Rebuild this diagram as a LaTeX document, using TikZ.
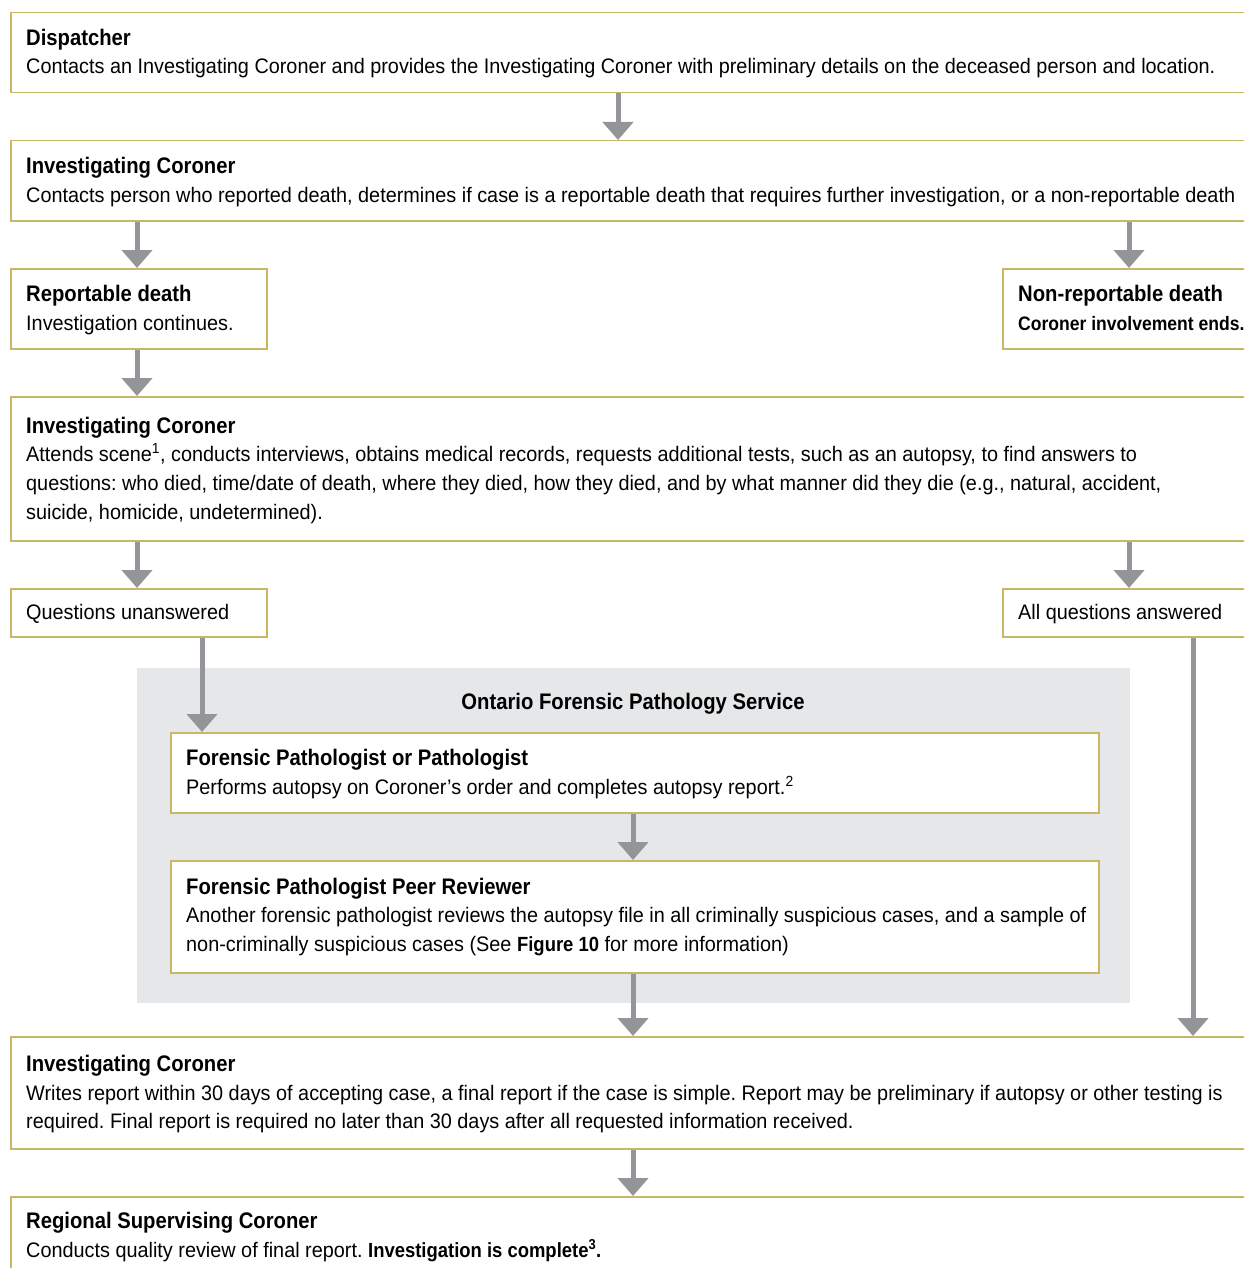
\documentclass[tikz,border=0pt]{standalone}
\usepackage{fontspec}
\setmainfont{Liberation Sans}[FakeStretch=0.9]
\newfontfamily\bodyfont{Liberation Sans}[FakeStretch=0.945]
\newcommand{\hl}[1]{{\rmfamily\bfseries\fontsize{20.5}{29}\selectfont #1}}
\usetikzlibrary{arrows.meta}
\definecolor{gold}{HTML}{C8B866}
\definecolor{arrgray}{HTML}{939598}
\definecolor{panelgray}{HTML}{E6E7E8}
\frenchspacing
\tikzset{
  box/.style={draw=gold, line width=1.5pt, fill=white, rectangle, inner sep=0pt, anchor=north west},
  ttl/.style={anchor=base west, inner sep=0pt, font=\rmfamily\fontsize{22.5}{29}\selectfont\bfseries},
  bdy/.style={anchor=base west, inner sep=0pt, font=\bodyfont\fontsize{21}{29}\selectfont},
  arr/.style={draw=arrgray, line width=5pt, -{Triangle[width=30pt,length=18pt]}, arrgray},
}
\begin{document}
\begin{tikzpicture}[x=1pt,y=-1pt]
\useasboundingbox (0,0) rectangle (1244,1268);
\clip (0,0) rectangle (1244,1268);
\fill[white] (0,0) rectangle (1244,1268);

% column coordinates
\coordinate (c137) at (137,0);
\coordinate (c202) at (202,0);
\coordinate (c618) at (618,0);
\coordinate (c633) at (633,0);
\coordinate (c1129) at (1129,0);
\coordinate (c1193) at (1193,0);

% panel
\node[fill=panelgray, rectangle, inner sep=0pt, anchor=north west, minimum width=993pt, minimum height=335pt] (panel) at (137,668) {};
\node[anchor=base, inner sep=0pt, font=\rmfamily\fontsize{22.5}{29}\selectfont\bfseries] (panelT) at (633,709) {Ontario Forensic Pathology Service};

% boxes
\node[box, minimum width=1250pt, minimum height=80pt] (disp) at (10,12) {};
\node[box, minimum width=1250pt, minimum height=80pt] (ic1) at (10,140) {};
\node[box, minimum width=256pt, minimum height=80pt] (rep) at (10,268) {};
\node[box, minimum width=258pt, minimum height=80pt] (nonrep) at (1002,268) {};
\node[box, minimum width=1250pt, minimum height=144pt] (ic2) at (10,396) {};
\node[box, minimum width=256pt, minimum height=48pt] (qun) at (10,588) {};
\node[box, minimum width=258pt, minimum height=48pt] (qall) at (1002,588) {};
\node[box, minimum width=928pt, minimum height=80pt] (fp) at (170,732) {};
\node[box, minimum width=928pt, minimum height=112pt] (peer) at (170,860) {};
\node[box, minimum width=1250pt, minimum height=112pt] (ic3) at (10,1036) {};
\node[box, minimum width=1250pt, minimum height=110pt] (rsc) at (10,1196) {};

% texts
\node[ttl] (dispT) at (26,46) {Dispatcher};
\node[bdy] (dispB) at (26,74) {Contacts an Investigating Coroner and provides the Investigating Coroner with preliminary details on the deceased person and location.};

\node[ttl] (ic1T) at (26,174) {Investigating Coroner};
\node[bdy] (ic1B) at (26,202) {Contacts person who reported death, determines if case is a reportable death that requires further investigation, or a non-reportable death};

\node[ttl] (repT) at (26,301) {Reportable death};
\node[bdy] (repB) at (26,330) {Investigation continues.};

\node[ttl] (nonrepT) at (1018,301) {Non-reportable death};
\node[anchor=base west, inner sep=0pt, font=\rmfamily\fontsize{19.5}{29}\selectfont\bfseries] (nonrepB) at (1018,330) {Coroner involvement ends.};

\node[ttl] (ic2T) at (26,433) {Investigating Coroner};
\node[bdy] (ic2B1) at (26,461) {Attends scene\textsuperscript{1}, conducts interviews, obtains medical records, requests additional tests, such as an autopsy, to find answers to};
\node[bdy] (ic2B2) at (26,490) {questions: who died, time/date of death, where they died, how they died, and by what manner did they die (e.g., natural, accident,};
\node[bdy] (ic2B3) at (26,519) {suicide, homicide, undetermined).};

\node[bdy] (qunT) at (26,619) {Questions unanswered};
\node[bdy] (qallT) at (1018,619) {All questions answered};

\node[ttl] (fpT) at (186,765) {Forensic Pathologist or Pathologist};
\node[bdy] (fpB) at (186,794) {Performs autopsy on Coroner’s order and completes autopsy report.\textsuperscript{2}};

\node[ttl] (peerT) at (186,894) {Forensic Pathologist Peer Reviewer};
\node[bdy] (peerB1) at (186,922) {Another forensic pathologist reviews the autopsy file in all criminally suspicious cases, and a sample of};
\node[bdy] (peerB2) at (186,951) {non-criminally suspicious cases (See \hl{Figure 10} for more information)};

\node[ttl] (ic3T) at (26,1071) {Investigating Coroner};
\node[bdy] (ic3B1) at (26,1100) {Writes report within 30 days of accepting case, a final report if the case is simple. Report may be preliminary if autopsy or other testing is};
\node[bdy] (ic3B2) at (26,1128) {required. Final report is required no later than 30 days after all requested information received.};

\node[ttl] (rscT) at (26,1228) {Regional Supervising Coroner};
\node[bdy] (rscB) at (26,1257) {Conducts quality review of final report. \hl{Investigation is complete\textsuperscript{3}.}};

% connectors
\draw[arr] (c618 |- disp.south) -- (c618 |- ic1.north);
\draw[arr] (c137 |- ic1.south) -- (c137 |- rep.north);
\draw[arr] (c1129 |- ic1.south) -- (c1129 |- nonrep.north);
\draw[arr] (c137 |- rep.south) -- (c137 |- ic2.north);
\draw[arr] (c137 |- ic2.south) -- (c137 |- qun.north);
\draw[arr] (c1129 |- ic2.south) -- (c1129 |- qall.north);
\draw[arr] (c202 |- qun.south) -- (c202 |- fp.north);
\draw[arr] (c633 |- fp.south) -- (c633 |- peer.north);
\draw[arr] (c633 |- peer.south) -- (c633 |- ic3.north);
\draw[arr] (c1193 |- qall.south) -- (c1193 |- ic3.north);
\draw[arr] (c633 |- ic3.south) -- (c633 |- rsc.north);
\end{tikzpicture}
\end{document}
